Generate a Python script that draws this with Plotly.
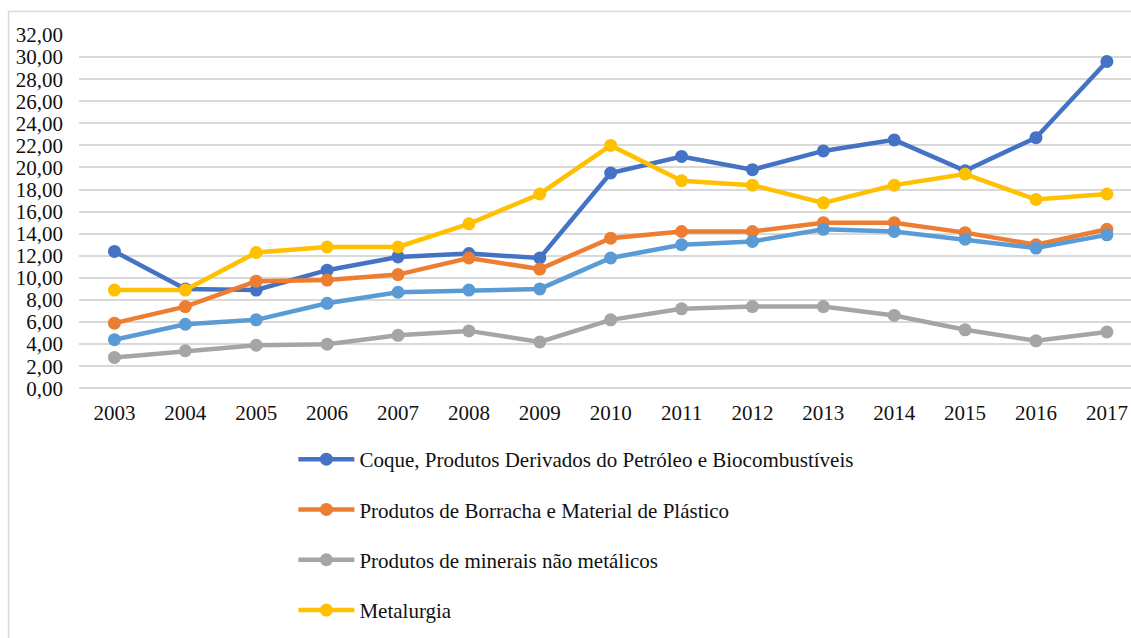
import plotly.graph_objects as go

anos = ["2003", "2004", "2005", "2006", "2007", "2008", "2009", "2010",
        "2011", "2012", "2013", "2014", "2015", "2016", "2017"]

coque = [12.4, 9.0, 8.9, 10.7, 11.9, 12.2, 11.8, 19.5, 21.0, 19.8, 21.5, 22.5, 19.7, 22.7, 29.6]
borracha = [5.9, 7.4, 9.7, 9.8, 10.3, 11.8, 10.8, 13.6, 14.2, 14.2, 15.0, 15.0, 14.1, 13.0, 14.4]
minerais = [2.8, 3.4, 3.9, 4.0, 4.8, 5.2, 4.2, 6.2, 7.2, 7.4, 7.4, 6.6, 5.3, 4.3, 5.1]
metalurgia = [8.9, 8.9, 12.3, 12.8, 12.8, 14.9, 17.6, 22.0, 18.8, 18.4, 16.8, 18.4, 19.4, 17.1, 17.6]
quinta_serie = [4.4, 5.8, 6.2, 7.7, 8.7, 8.9, 9.0, 11.8, 13.0, 13.3, 14.4, 14.2, 13.5, 12.7, 13.9]

series = [
    ("Coque, Produtos Derivados do Petróleo e Biocombustíveis", coque, "#4472C4", True),
    ("Produtos de Borracha e Material de Plástico", borracha, "#ED7D31", True),
    ("Produtos de minerais não metálicos", minerais, "#A5A5A5", True),
    ("Metalurgia", metalurgia, "#FFC000", True),
    ("Outra série", quinta_serie, "#5B9BD5", False),
]

fig = go.Figure()
for i, (nome, vals, cor, leg) in enumerate(series):
    fig.add_trace(go.Scatter(
        x=anos, y=vals, name=nome, mode="lines+markers",
        line=dict(color=cor, width=4.5),
        marker=dict(color=cor, size=13),
        showlegend=leg, legendgroup=f"g{i}",
    ))

W, H = 1131, 638
L, T = 78.5, 35
pw = W - L
ph = H - T
y_bottom_px = 388.3


def py(px):  # pixel y -> paper y
    return (H - px) / ph


def pxx(px):  # pixel x -> paper x
    return (px - L) / pw


FONT = "Liberation Serif"
FS = 21

fig.update_layout(
    width=W, height=H,
    margin=dict(l=L, r=0, t=T, b=0, pad=0, autoexpand=False),
    paper_bgcolor="white", plot_bgcolor="white",
    separators=",.",
    font=dict(family=FONT, size=FS, color="#111111"),
    xaxis=dict(
        type="category", range=[-0.5, 14.34],
        showgrid=False, showline=False, zeroline=False,
        ticks="", ticklabelstandoff=10, tickangle=0,
        tickfont=dict(family=FONT, size=FS),
    ),
    yaxis=dict(
        domain=[py(y_bottom_px), 1],
        range=[0, 32], dtick=2, tickformat=".2f",
        showgrid=True, gridcolor="#d9d9d9", gridwidth=1.5,
        zeroline=True, zerolinecolor="#d9d9d9", zerolinewidth=1.5,
        showline=False, ticks="", ticklabelstandoff=15,
        tickfont=dict(family=FONT, size=FS),
    ),
    legend=dict(
        orientation="v",
        x=pxx(293), xanchor="left",
        y=py(439), yanchor="top",
        tracegroupgap=20,
        itemwidth=56,
        font=dict(family=FONT, size=FS),
        bgcolor="rgba(0,0,0,0)",
    ),
    shapes=[dict(
        type="rect", xref="paper", yref="paper",
        x0=pxx(8), x1=pxx(1140),
        y0=py(660), y1=py(11.5),
        line=dict(color="#d9d9d9", width=1.5), layer="below",
    )],
)

fig.write_html("out.html")
